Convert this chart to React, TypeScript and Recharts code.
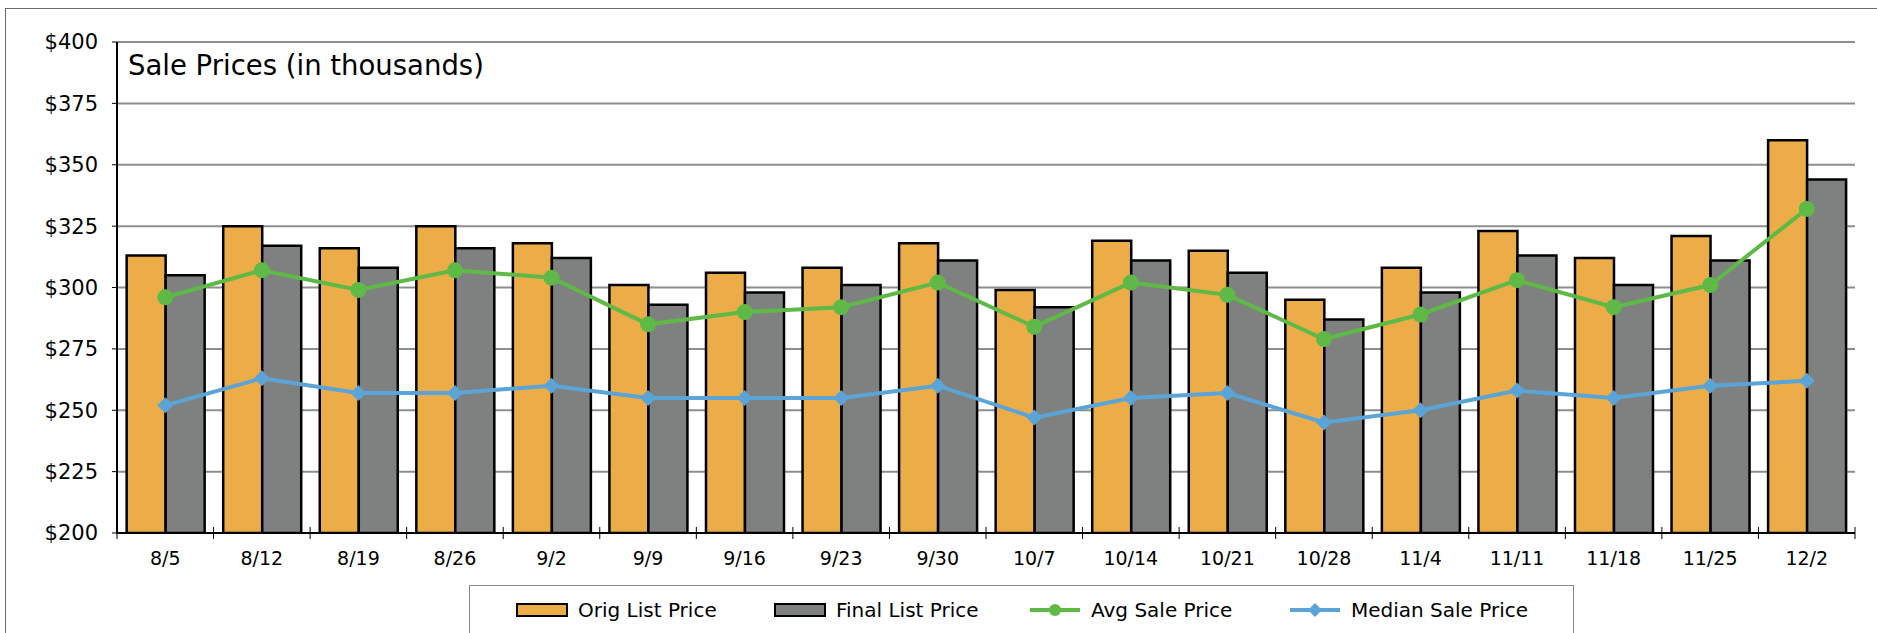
import { Bar, CartesianGrid, ComposedChart, Line, XAxis, YAxis } from 'recharts';

const weeks = ['8/5', '8/12', '8/19', '8/26', '9/2', '9/9', '9/16', '9/23', '9/30', '10/7', '10/14', '10/21', '10/28', '11/4', '11/11', '11/18', '11/25', '12/2'];
const origList = [313, 325, 316, 325, 318, 301, 306, 308, 318, 299, 319, 315, 295, 308, 323, 312, 321, 360];
const finalList = [305, 317, 308, 316, 312, 293, 298, 301, 311, 292, 311, 306, 287, 298, 313, 301, 311, 344];
const avgSale = [296, 307, 299, 307, 304, 285, 290, 292, 302, 284, 302, 297, 279, 289, 303, 292, 301, 332];
const medianSale = [252, 263, 257, 257, 260, 255, 255, 255, 260, 247, 255, 257, 245, 250, 258, 255, 260, 262];
const yTicks = [200, 225, 250, 275, 300, 325, 350, 375, 400];

const ORANGE = '#ECAD48';
const GRAY = '#7E817F';
const GREEN = '#5FB946';
const BLUE = '#5BA4D7';
const GRID = '#8E8E8E';
const FONT = '"DejaVu Sans", "Noto Sans", sans-serif';

const W = 1877;
const H = 633;
const M = { top: 42, right: 22, bottom: 70, left: 0 };
const Y_W = 117;
const X_H = 30;
const plotW = W - M.left - M.right - Y_W;
const band = plotW / weeks.length;

const data = weeks.map((w, i) => ({
  week: w,
  orig: origList[i],
  final: finalList[i],
  avg: avgSale[i],
  median: medianSale[i],
}));

function XTick(props: any) {
  const { x, y, payload, index } = props;
  const last = index === weeks.length - 1;
  return (
    <g>
      <line x1={x - band / 2} x2={x - band / 2} y1={y - 6} y2={y + 6} stroke="#000" strokeWidth={1} />
      {last && <line x1={x + band / 2} x2={x + band / 2} y1={y - 6} y2={y + 6} stroke="#000" strokeWidth={1} />}
      <text x={x} y={y + 32} textAnchor="middle" fontSize={19} fill="#000" fontFamily={FONT}>
        {payload.value}
      </text>
    </g>
  );
}

function Diamond(props: any) {
  const { cx, cy } = props;
  if (cx == null || cy == null) return null;
  const s = 8;
  return <polygon points={`${cx},${cy - s} ${cx + s},${cy} ${cx},${cy + s} ${cx - s},${cy}`} fill={BLUE} />;
}

const legendItems = [
  { name: 'Orig List Price', kind: 'bar', color: ORANGE, left: 515 },
  { name: 'Final List Price', kind: 'bar', color: GRAY, left: 773 },
  { name: 'Avg Sale Price', kind: 'dot', color: GREEN, left: 1028 },
  { name: 'Median Sale Price', kind: 'diamond', color: BLUE, left: 1288 },
];

function LegendBox() {
  return (
    <div
      style={{
        position: 'absolute',
        left: 469,
        top: 585,
        width: 1105,
        height: 80,
        border: '1.5px solid #8a8a8a',
        boxSizing: 'border-box',
      }}
    >
      {legendItems.map((it) => (
        <div
          key={it.name}
          style={{ position: 'absolute', left: it.left - 469, top: 10, display: 'flex', alignItems: 'center', height: 28 }}
        >
          <svg width={52} height={16} style={{ marginRight: 10 }}>
            {it.kind === 'bar' ? (
              <rect x={1} y={2} width={50} height={12} fill={it.color} stroke="#000" strokeWidth={2} />
            ) : (
              <g>
                <line x1={1} x2={51} y1={8} y2={8} stroke={it.color} strokeWidth={4} />
                {it.kind === 'dot' ? (
                  <circle cx={26} cy={8} r={6} fill={it.color} />
                ) : (
                  <polygon points="26,1 33,8 26,15 19,8" fill={it.color} />
                )}
              </g>
            )}
          </svg>
          <span style={{ fontSize: 20, color: '#000', fontFamily: FONT }}>{it.name}</span>
        </div>
      ))}
    </div>
  );
}

export default function App() {
  return (
    <div style={{ position: 'relative', width: W, height: H, overflow: 'hidden', background: '#fff', fontFamily: FONT }}>
      <style>{`body{margin:0;overflow:hidden}`}</style>
      <div
        style={{
          position: 'absolute',
          left: 5,
          top: 8,
          width: 2000,
          height: 800,
          border: '1.5px solid #6a6a6a',
          boxSizing: 'border-box',
        }}
      />
      <ComposedChart
        width={W}
        height={H}
        data={data}
        margin={M}
        barCategoryGap="10%"
        barGap={0}
        style={{ position: 'absolute', left: 0, top: 0 }}
      >
        <CartesianGrid vertical={false} stroke={GRID} strokeWidth={2} />
        <XAxis
          dataKey="week"
          height={X_H}
          tickLine={false}
          tickSize={0}
          tickMargin={0}
          axisLine={{ stroke: '#000', strokeWidth: 2 }}
          tick={<XTick />}
          interval={0}
        />
        <YAxis
          width={Y_W}
          domain={[200, 400]}
          ticks={yTicks}
          tickFormatter={(v: number) => `$${v}`}
          tickSize={5}
          tickMargin={14}
          tickLine={{ stroke: '#000', strokeWidth: 1 }}
          axisLine={{ stroke: '#000', strokeWidth: 2 }}
          tick={{ fill: '#000', fontSize: 21, fontFamily: FONT }}
          allowDataOverflow
        />
        <YAxis
          yAxisId="frame"
          orientation="right"
          width={0}
          domain={[200, 400]}
          tick={false}
          tickLine={false}
          axisLine={{ stroke: GRID, strokeWidth: 2 }}
        />
        <Bar dataKey="orig" name="Orig List Price" fill={ORANGE} stroke="#000" strokeWidth={2.5} isAnimationActive={false} />
        <Bar dataKey="final" name="Final List Price" fill={GRAY} stroke="#000" strokeWidth={2.5} isAnimationActive={false} />
        <Line
          type="linear"
          dataKey="avg"
          name="Avg Sale Price"
          stroke={GREEN}
          strokeWidth={4}
          dot={{ r: 8, fill: GREEN, stroke: 'none' }}
          activeDot={false}
          isAnimationActive={false}
        />
        <Line
          type="linear"
          dataKey="median"
          name="Median Sale Price"
          stroke={BLUE}
          strokeWidth={4}
          dot={<Diamond />}
          activeDot={false}
          isAnimationActive={false}
        />
      </ComposedChart>
      <div
        style={{
          position: 'absolute',
          left: 128,
          top: 47,
          fontSize: 27.5,
          color: '#000',
          fontFamily: FONT,
          lineHeight: '36px',
        }}
      >
        Sale Prices (in thousands)
      </div>
      <LegendBox />
    </div>
  );
}
